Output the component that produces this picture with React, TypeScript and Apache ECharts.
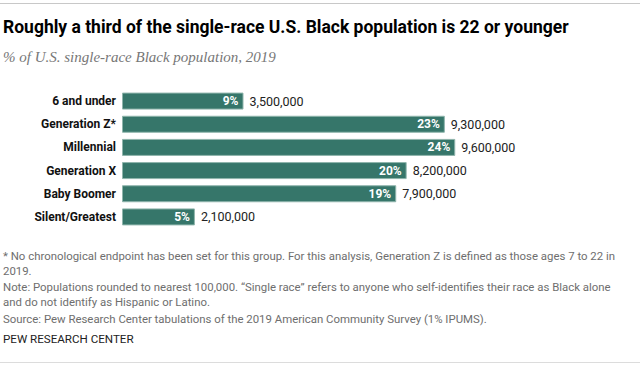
import React, { useEffect, useRef } from "react";
import * as echarts from "echarts";

const categories = ["6 and under", "Generation Z*", "Millennial", "Generation X", "Baby Boomer", "Silent/Greatest"];
const percents = [9, 23, 24, 20, 19, 5];
const populations = [3500000, 9300000, 9600000, 8200000, 7900000, 2100000];

const titleText = "Roughly a third of the single-race U.S. Black population is 22 or younger";
const subtitleText = "% of U.S. single-race Black population, 2019";
const noteLines = [
  "* No chronological endpoint has been set for this group. For this analysis, Generation Z is defined as those ages 7 to 22 in",
  "2019.",
  "Note: Populations rounded to nearest 100,000. \u201cSingle race\u201d refers to anyone who self-identifies their race as Black alone",
  "and do not identify as Hispanic or Latino.",
  "Source: Pew Research Center tabulations of the 2019 American Community Survey (1% IPUMS).",
];
const sourceText = "PEW RESEARCH CENTER";

const fmt = (v: number) => v.toLocaleString("en-US");

export default function App() {
  const ref = useRef<HTMLDivElement>(null);
  useEffect(() => {
    if (!ref.current) return;
    const chart = echarts.init(ref.current, undefined, { renderer: "svg" });
    const sans = "Roboto, 'Liberation Sans', sans-serif";
    const noteY = [256, 271, 287, 302, 319];
    chart.setOption({
      animation: false,
      grid: { left: 122, right: 32, top: 89.5, bottom: 365 - 228.5, containLabel: false },
      xAxis: { type: "value", min: 0, max: 14000000, show: false },
      yAxis: {
        type: "category",
        data: categories,
        inverse: true,
        axisLine: { show: false },
        axisTick: { show: false },
        axisLabel: { fontFamily: sans, fontWeight: "bold", fontSize: 12, color: "#111", margin: 6 },
      },
      series: [
        {
          type: "bar",
          data: populations,
          barWidth: 17,
          itemStyle: { color: "#36766a", borderColor: "#8fb5ac", borderWidth: 1 },
          label: {
            show: true,
            position: "insideRight",
            distance: 5,
            formatter: (p: any) => percents[p.dataIndex] + "%",
            color: "#fff",
            fontFamily: sans,
            fontWeight: "bold",
            fontSize: 12,
          },
          z: 2,
        },
        {
          type: "bar",
          data: populations,
          barGap: "-100%",
          barWidth: 17,
          itemStyle: { color: "rgba(0,0,0,0)" },
          label: {
            show: true,
            position: "right",
            distance: 6,
            formatter: (p: any) => fmt(p.value),
            color: "#222",
            fontFamily: sans,
            fontSize: 12.5,
          },
          z: 1,
        },
      ],
      graphic: [
        { type: "line", shape: { x1: 0, y1: 3.5, x2: 640, y2: 3.5 }, style: { stroke: "#c8c8c8", lineWidth: 1 } },
        { type: "line", shape: { x1: 0, y1: 362.5, x2: 640, y2: 362.5 }, style: { stroke: "#dcdcdc", lineWidth: 1 } },
        {
          type: "text",
          x: 3,
          y: 27,
          style: { text: titleText, font: `bold 17.5px ${sans}`, fill: "#000", verticalAlign: "middle" },
        },
        {
          type: "text",
          x: 3,
          y: 57,
          style: {
            text: subtitleText,
            font: "italic 15px 'Liberation Serif', 'DejaVu Serif', serif",
            fill: "#777",
            verticalAlign: "middle",
          },
        },
        ...noteLines.map((t, i) => ({
          type: "text",
          x: 3,
          y: noteY[i],
          style: { text: t, font: `11.4px ${sans}`, fill: "#6e6e6e", verticalAlign: "middle" },
        })),
        {
          type: "text",
          x: 3,
          y: 339,
          style: { text: sourceText, font: `11.6px ${sans}`, fill: "#222", verticalAlign: "middle" },
        },
      ],
    });
    return () => chart.dispose();
  }, []);
  return <div ref={ref} style={{ width: 640, height: 365, position: "absolute", left: 0, top: 0 }} />;
}
